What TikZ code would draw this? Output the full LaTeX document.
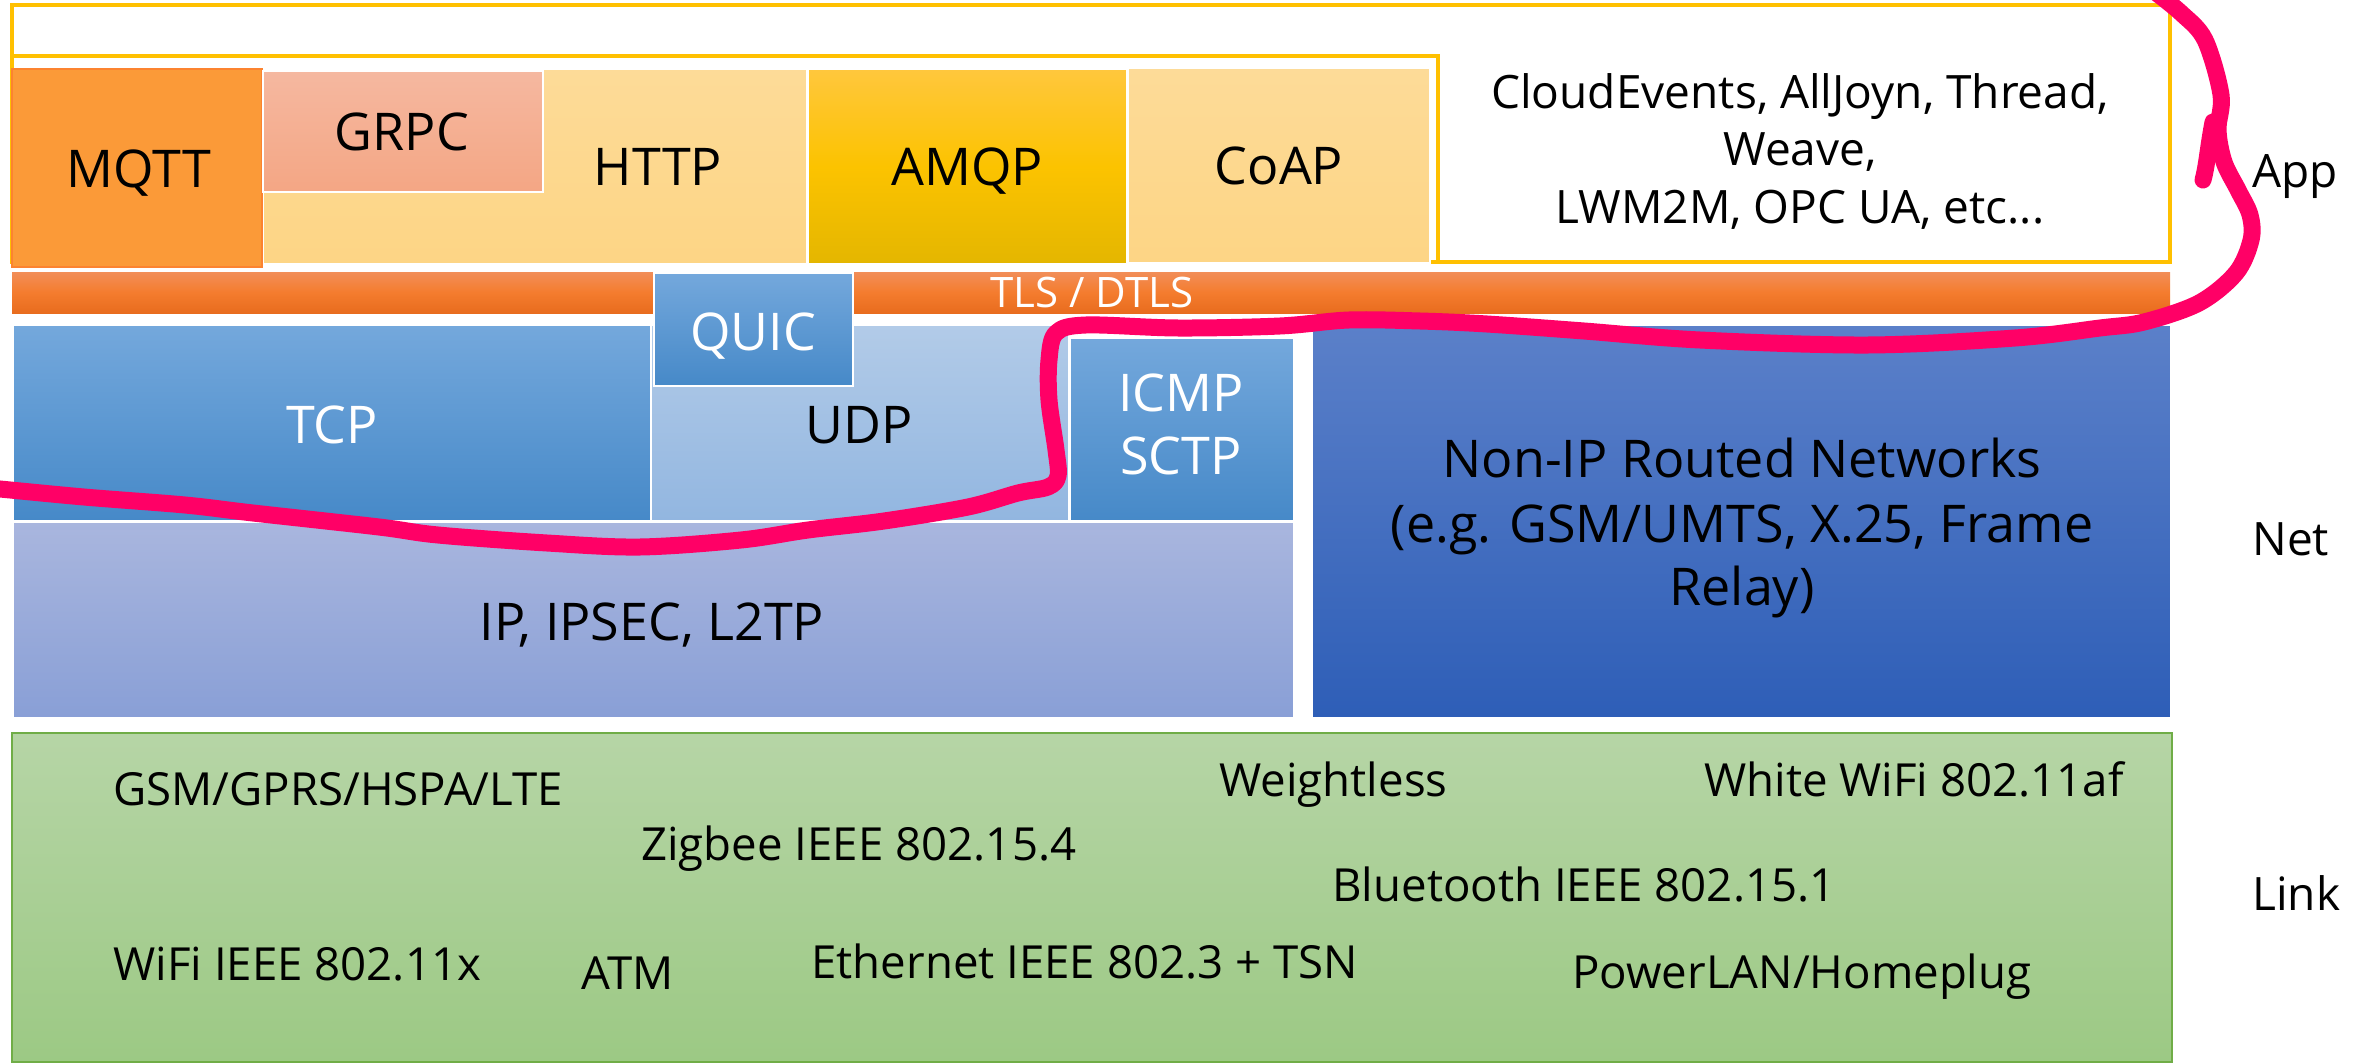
\documentclass[tikz,border=0pt]{standalone}
\usepackage{fontspec}
\setmainfont{Open Sans}
\usetikzlibrary{fit}

\definecolor{appframe}{HTML}{FFC000}
\definecolor{mqttc}{HTML}{FB9A38}
\definecolor{grpctop}{HTML}{F5B8A0}
\definecolor{grpcbot}{HTML}{F4A684}
\definecolor{httptop}{HTML}{FDDB98}
\definecolor{httpbot}{HTML}{FDD585}
\definecolor{amqptop}{HTML}{FFC73D}
\definecolor{amqpmid}{HTML}{FCC300}
\definecolor{amqpbot}{HTML}{E4B600}
\definecolor{tlstop}{HTML}{F28E58}
\definecolor{tlsmid}{HTML}{F47C2E}
\definecolor{tlsbot}{HTML}{E86C1E}
\definecolor{bluetop}{HTML}{74A8DC}
\definecolor{bluebot}{HTML}{4689C8}
\definecolor{udptop}{HTML}{B2CBE8}
\definecolor{udpbot}{HTML}{92B6E0}
\definecolor{iptop}{HTML}{A9B6DE}
\definecolor{ipbot}{HTML}{899FD6}
\definecolor{nonipt}{HTML}{5B80C9}
\definecolor{nonipb}{HTML}{2E5EB7}
\definecolor{linktop}{HTML}{B6D5A6}
\definecolor{linkbot}{HTML}{9CC984}
\definecolor{linkedge}{HTML}{70AD47}
\definecolor{marker}{HTML}{FF0066}

\tikzset{
  blk/.style={draw=white, line width=0.8pt, inner sep=0pt},
  big/.style={font=\fontsize{26}{31}\selectfont, anchor=base, inner sep=0pt},
  mid/.style={font=\fontsize{23}{28.75}\selectfont},
  lnk/.style={font=\fontsize{22.8}{27}\selectfont, anchor=base west, inner sep=0pt},
  side/.style={font=\fontsize{23}{28}\selectfont, anchor=base west, inner sep=0pt},
  frame/.style={draw=appframe, line width=1.6pt},
  pen/.style={draw=marker, line width=8.5pt, line cap=round, line join=round}
}

\begin{document}
\begin{tikzpicture}[x=0.5pt, y=-0.5pt]
  \useasboundingbox (0,0) rectangle (2364,1064);

  % application layer frames
  \node[frame, inner sep=0pt, fit={(12,5) (2170,262)}] (appouter) {};
  \node[frame, inner sep=0pt, fit={(12,56) (1438,262)}] (appinner) {};
  \node[mid, align=center, anchor=north, inner sep=0pt] (others) at (1800,73)
    {CloudEvents, AllJoyn, Thread,\\Weave,\\LWM2M, OPC UA, etc...};

  % application protocols
  \node[blk, top color=httptop, bottom color=httpbot, fit={(263,69) (807,264)}] (httpbg) {};
  \node[blk, fill=mqttc, draw=mqttc!85!red, fit={(12,69) (262,267)}] (mqtt) {};
  \node[blk, top color=grpctop, bottom color=grpcbot, fit={(263,71) (543,192)}] (grpc) {};
  \node[blk, top color=amqptop, bottom color=amqpbot, middle color=amqpmid, fit={(808,69) (1127,264)}] (amqp) {};
  \node[blk, top color=httptop, bottom color=httpbot, fit={(1128,68) (1430,263)}] (coap) {};
  \node[big] (tmqtt) at (139,188) {MQTT};
  \node[big] (tgrpc) at (402,151) {GRPC};
  \node[big] (thttp) at (658,186) {HTTP};
  \node[big] (tamqp) at (967,186) {AMQP};
  \node[big] (tcoap) at (1279,185) {CoAP};

  % security layer
  \node[blk, draw=none, top color=tlstop, bottom color=tlsbot, middle color=tlsmid, fit={(12,272) (2170,313)}] (tls) {};
  \node[font=\fontsize{21}{25}\selectfont, text=white, anchor=base, inner sep=0pt] (ttls) at (1092,307) {TLS / DTLS};

  % transport and network layers
  \node[blk, top color=bluetop, bottom color=bluebot, fit={(13,325) (651,521)}] (tcp) {};
  \node[blk, top color=udptop, bottom color=udpbot, fit={(651,325) (1069,521)}] (udp) {};
  \node[blk, top color=bluetop, bottom color=bluebot, fit={(1070,338) (1294,521)}] (icmp) {};
  \node[blk, top color=bluetop, bottom color=bluebot, fit={(654,273) (853,386)}] (quic) {};
  \node[blk, top color=iptop, bottom color=ipbot, fit={(13,522) (1294,718)}] (ip) {};
  \node[blk, top color=nonipt, bottom color=nonipb, fit={(1312,325) (2171,718)}] (nonip) {};

  \node[big, text=white] (ttcp) at (332,443) {TCP};
  \node[big] (tudp) at (859,443) {UDP};
  \node[big, text=white] (ticmp) at (1181,411) {ICMP};
  \node[big, text=white] (tsctp) at (1181,474) {SCTP};
  \node[big, text=white] (tquic) at (753,350) {QUIC};
  \node[big] (tip) at (652,640) {IP, IPSEC, L2TP};
  \node[big] (tnon1) at (1742,477) {Non-IP Routed Networks};
  \node[big] (tnon2) at (1742,542) {(e.g. GSM/UMTS, X.25, Frame};
  \node[big] (tnon3) at (1742,605) {Relay)};

  % link layer
  \node[draw=linkedge, line width=0.8pt, top color=linktop, bottom color=linkbot, inner sep=0pt, fit={(12,733) (2172,1062)}] (link) {};
  \node[lnk] (l1) at (113,805) {GSM/GPRS/HSPA/LTE};
  \node[lnk] (l2) at (1219,796) {Weightless};
  \node[lnk] (l3) at (1704,796) {White WiFi 802.11af};
  \node[lnk] (l4) at (641,860) {Zigbee IEEE 802.15.4};
  \node[lnk] (l5) at (1332,901) {Bluetooth IEEE 802.15.1};
  \node[lnk] (l6) at (113,980) {WiFi IEEE 802.11x};
  \node[lnk] (l7) at (581,989) {ATM};
  \node[lnk] (l8) at (811,978) {Ethernet IEEE 802.3 + TSN};
  \node[lnk] (l9) at (1572,988) {PowerLAN/Homeplug};

  % layer names
  \node[side] (sapp) at (2252,188) {App};
  \node[side] (snet) at (2252,555) {Net};
  \node[side] (slink) at (2252,910) {Link};

  % hand-drawn boundary around the application part
  \draw[pen] plot[smooth, tension=0.55] coordinates {
    (-10,488) (84,497) (185,505) (253,513) (379,527) (438,535) (547,543)
    (640,547) (741,540) (808,530) (884,521) (968,507) (1018,493) (1048,487)
    (1058,476) (1056,450) (1049,400) (1049,360) (1056,333) (1086,325)
    (1178,328) (1280,326) (1349,320) (1420,321) (1487,324) (1584,331)
    (1700,340) (1868,345) (2015,338) (2100,328) (2144,322) (2199,303)
    (2236,273) (2251,240) (2250,215) (2238,190) (2224,162) (2218,130)
    (2221,95) (2205,40) (2181,13) (2150,-12)};
  \draw[pen] (2213,122) .. controls (2208,148) and (2207,165) .. (2203,180);
\end{tikzpicture}
\end{document}
